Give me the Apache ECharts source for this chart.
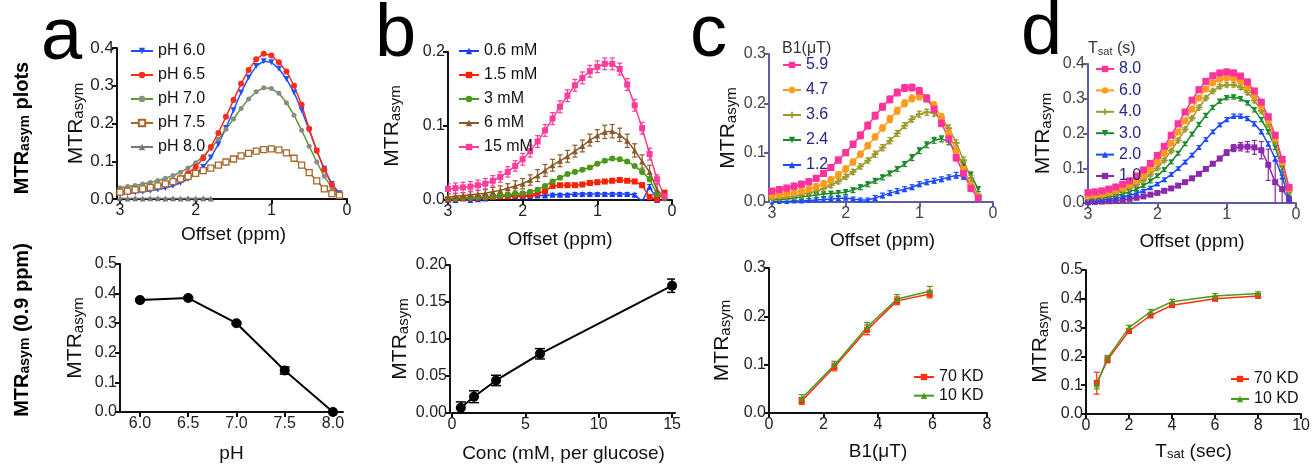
<!DOCTYPE html>
<html><head><meta charset="utf-8">
<script src="https://cdn.jsdelivr.net/npm/echarts@6/dist/echarts.min.js"></script>
<style>html,body{margin:0;padding:0;background:#fff}#c{width:1313px;height:466px}</style>
</head><body><div id="c"></div><script>
// ---------- DATA ----------
const OFF30 = [3.0,2.9,2.8,2.7,2.6,2.5,2.4,2.3,2.2,2.1,2.0,1.9,1.8,1.7,1.6,1.5,1.4,1.3,1.2,1.1,1.0,0.9,0.8,0.7,0.6,0.5,0.4,0.3,0.2,0.1];
const OFF29 = [3.0,2.9,2.8,2.7,2.6,2.5,2.4,2.3,2.2,2.1,2.0,1.9,1.8,1.7,1.6,1.5,1.4,1.3,1.2,1.1,1.0,0.9,0.8,0.7,0.6,0.5,0.4,0.3,0.2];
const OFF13 = [3.0,2.9,2.8,2.7,2.6,2.5,2.4,2.3,2.2,2.1,2.0,1.9,1.8];

// panel a (top)
const aNames = ['pH 6.0','pH 6.5','pH 7.0','pH 7.5','pH 8.0'];
const ph60 = [0.013,0.015,0.017,0.019,0.022,0.025,0.029,0.035,0.043,0.053,0.066,0.085,0.110,0.145,0.188,0.235,0.282,0.322,0.352,0.365,0.362,0.345,0.318,0.282,0.236,0.182,0.128,0.080,0.040,0.015];
const ph65 = [0.020,0.022,0.024,0.027,0.030,0.034,0.039,0.046,0.055,0.068,0.085,0.108,0.138,0.175,0.218,0.262,0.305,0.342,0.370,0.385,0.380,0.362,0.338,0.300,0.250,0.186,0.128,0.078,0.038,0.012];
const ph70 = [0.030,0.033,0.036,0.040,0.044,0.049,0.055,0.062,0.071,0.082,0.096,0.113,0.134,0.158,0.185,0.212,0.240,0.265,0.284,0.295,0.293,0.280,0.255,0.222,0.182,0.140,0.098,0.060,0.030,0.010];
const ph75 = [0.018,0.021,0.024,0.027,0.031,0.035,0.040,0.046,0.053,0.060,0.068,0.075,0.082,0.090,0.098,0.106,0.114,0.121,0.127,0.131,0.133,0.130,0.122,0.108,0.090,0.070,0.048,0.027,0.014,0.010];
const ph80 = [0.002,0.001,0.002,0.001,0.002,0.002,0.001,0.002,0.001,0.002,0.001,0.002,0.001];

// panel b (top)
const bNames = ['0.6 mM','1.5 mM','3 mM','6 mM','15 mM'];
const c06 = [0.000,0.000,-0.001,0.000,0.001,0.002,0.004,0.005,0.005,0.005,0.005,0.005,0.006,0.006,0.007,0.007,0.007,0.008,0.008,0.008,0.008,0.008,0.008,0.008,0.008,0.007,-0.002,0.018,0.000,-0.002];
const c06e = [0.002,0.002,0.002,0.002,0.002,0.002,0.002,0.002,0.002,0.002,0.002,0.002,0.002,0.002,0.002,0.002,0.002,0.002,0.002,0.002,0.002,0.002,0.002,0.002,0.002,0.002,0.002,0.003,0.002,0.002];
const c15 = [0.001,0.002,0.002,0.003,0.003,0.004,0.004,0.005,0.005,0.006,0.006,0.007,0.009,0.012,0.019,0.020,0.020,0.020,0.021,0.023,0.024,0.025,0.026,0.027,0.026,0.025,0.020,0.004,0.001,0.010];
const c15e = [0.002,0.002,0.002,0.002,0.002,0.002,0.002,0.002,0.002,0.002,0.002,0.002,0.002,0.002,0.002,0.002,0.002,0.002,0.002,0.002,0.002,0.002,0.002,0.002,0.002,0.002,0.003,0.003,0.002,0.002];
const c3 = [0.002,0.002,0.003,0.003,0.004,0.004,0.005,0.006,0.007,0.008,0.009,0.011,0.014,0.019,0.025,0.030,0.035,0.038,0.041,0.044,0.049,0.053,0.056,0.055,0.052,0.046,0.038,0.028,0.008,0.002];
const c3e = [0.002,0.002,0.002,0.002,0.002,0.002,0.002,0.002,0.002,0.002,0.002,0.002,0.002,0.002,0.002,0.002,0.002,0.002,0.002,0.002,0.002,0.002,0.002,0.002,0.002,0.002,0.002,0.003,0.002,0.002];
const c6 = [0.004,0.005,0.006,0.007,0.008,0.009,0.011,0.013,0.016,0.019,0.022,0.027,0.033,0.040,0.047,0.053,0.059,0.066,0.073,0.081,0.087,0.092,0.093,0.088,0.080,0.067,0.052,0.038,0.014,0.003];
const c6e = [0.004,0.004,0.004,0.005,0.005,0.005,0.006,0.006,0.006,0.007,0.007,0.007,0.008,0.008,0.008,0.008,0.008,0.008,0.008,0.008,0.008,0.009,0.009,0.009,0.009,0.009,0.009,0.009,0.008,0.004];
const c150 = [0.015,0.016,0.017,0.018,0.020,0.022,0.026,0.031,0.038,0.046,0.055,0.066,0.079,0.094,0.110,0.126,0.141,0.155,0.165,0.174,0.180,0.184,0.184,0.177,0.156,0.128,0.097,0.062,0.028,0.005];
const c150e = [0.007,0.007,0.007,0.007,0.007,0.007,0.007,0.007,0.007,0.007,0.008,0.008,0.008,0.008,0.008,0.008,0.008,0.008,0.008,0.008,0.008,0.008,0.008,0.008,0.008,0.008,0.008,0.008,0.006,0.004];

// panel c (top)
const cNames = ['5.9','4.7','3.6','2.4','1.2'];
const b59 = [0.022,0.025,0.028,0.032,0.036,0.041,0.048,0.058,0.070,0.085,0.100,0.117,0.135,0.155,0.175,0.193,0.208,0.222,0.231,0.232,0.225,0.210,0.188,0.160,0.128,0.090,0.058,0.028,0.008];
const b59e = [0.006,0.006,0.006,0.006,0.006,0.006,0.006,0.006,0.006,0.006,0.006,0.006,0.007,0.007,0.007,0.007,0.007,0.007,0.007,0.007,0.007,0.007,0.007,0.007,0.007,0.007,0.007,0.007,0.006];
const b47 = [0.012,0.014,0.016,0.019,0.022,0.026,0.031,0.037,0.045,0.055,0.067,0.081,0.097,0.114,0.132,0.150,0.168,0.185,0.200,0.210,0.214,0.210,0.196,0.172,0.140,0.103,0.066,0.034,0.010];
const b47e = [0.006,0.006,0.006,0.006,0.006,0.006,0.006,0.006,0.006,0.006,0.006,0.006,0.006,0.006,0.006,0.006,0.007,0.007,0.007,0.007,0.007,0.007,0.007,0.007,0.007,0.007,0.007,0.007,0.006];
const b36 = [0.006,0.008,0.010,0.012,0.015,0.018,0.022,0.027,0.034,0.042,0.051,0.061,0.072,0.084,0.097,0.110,0.124,0.139,0.155,0.168,0.178,0.182,0.180,0.170,0.150,0.120,0.085,0.048,0.012];
const b36e = [0.005,0.005,0.005,0.005,0.005,0.005,0.005,0.005,0.005,0.005,0.005,0.005,0.005,0.005,0.006,0.006,0.006,0.006,0.006,0.006,0.006,0.006,0.006,0.006,0.006,0.006,0.006,0.006,0.005];
const b24 = [0.004,0.005,0.006,0.008,0.010,0.012,0.014,0.016,0.017,0.018,0.020,0.024,0.030,0.036,0.043,0.050,0.058,0.067,0.077,0.090,0.104,0.116,0.125,0.128,0.122,0.100,0.075,0.055,0.026];
const b24e = [0.005,0.005,0.005,0.005,0.005,0.005,0.005,0.005,0.005,0.005,0.005,0.005,0.005,0.005,0.005,0.005,0.005,0.005,0.005,0.006,0.006,0.006,0.006,0.006,0.006,0.006,0.006,0.006,0.005];
const b12 = [0.000,0.001,0.001,0.002,0.002,0.003,0.004,0.005,0.006,0.007,0.008,0.006,0.004,0.004,0.008,0.013,0.018,0.022,0.026,0.030,0.036,0.040,0.043,0.046,0.050,0.054,0.052,0.035,0.005];
const b12e = [0.004,0.004,0.004,0.004,0.004,0.004,0.004,0.004,0.004,0.004,0.004,0.004,0.004,0.004,0.005,0.005,0.005,0.005,0.005,0.005,0.005,0.005,0.005,0.005,0.005,0.006,0.006,0.006,0.005];

// panel d (top)
const dNames = ['8.0','6.0','4.0','3.0','2.0','1.0'];
const t80 = [0.030,0.032,0.035,0.040,0.046,0.054,0.064,0.078,0.095,0.114,0.137,0.163,0.195,0.228,0.262,0.296,0.326,0.350,0.366,0.374,0.377,0.374,0.365,0.348,0.322,0.290,0.248,0.195,0.125,0.045];
const t80e = [0.006,0.006,0.006,0.006,0.006,0.006,0.006,0.006,0.006,0.006,0.006,0.006,0.006,0.006,0.006,0.006,0.007,0.007,0.007,0.008,0.008,0.008,0.008,0.008,0.008,0.008,0.008,0.008,0.008,0.006];
const t60 = [0.020,0.022,0.025,0.030,0.036,0.043,0.052,0.064,0.079,0.097,0.118,0.143,0.172,0.204,0.237,0.270,0.302,0.328,0.346,0.356,0.360,0.358,0.350,0.334,0.310,0.278,0.237,0.185,0.118,0.040];
const t60e = [0.005,0.005,0.005,0.005,0.005,0.005,0.005,0.005,0.005,0.005,0.005,0.005,0.005,0.005,0.006,0.006,0.006,0.006,0.006,0.006,0.006,0.006,0.006,0.006,0.006,0.006,0.006,0.006,0.006,0.005];
const t40 = [0.015,0.017,0.020,0.024,0.029,0.035,0.043,0.053,0.066,0.082,0.100,0.123,0.150,0.180,0.212,0.244,0.275,0.302,0.322,0.335,0.340,0.340,0.333,0.318,0.295,0.265,0.225,0.175,0.110,0.035];
const t40e = [0.005,0.005,0.005,0.005,0.005,0.005,0.005,0.005,0.005,0.005,0.005,0.005,0.005,0.005,0.005,0.005,0.006,0.006,0.006,0.006,0.006,0.006,0.006,0.006,0.006,0.006,0.006,0.006,0.005,0.005];
const t30 = [0.010,0.012,0.014,0.017,0.021,0.026,0.032,0.040,0.050,0.063,0.078,0.096,0.118,0.143,0.170,0.198,0.226,0.252,0.275,0.293,0.303,0.305,0.300,0.288,0.268,0.240,0.205,0.160,0.100,0.025];
const t30e = [0.004,0.004,0.004,0.004,0.004,0.004,0.004,0.004,0.005,0.005,0.005,0.005,0.005,0.005,0.005,0.005,0.006,0.006,0.006,0.006,0.006,0.006,0.006,0.006,0.006,0.006,0.006,0.006,0.005,0.004];
const t20 = [0.005,0.007,0.009,0.011,0.014,0.018,0.022,0.028,0.035,0.044,0.055,0.067,0.082,0.099,0.118,0.138,0.160,0.183,0.205,0.225,0.240,0.250,0.250,0.243,0.228,0.205,0.170,0.128,0.075,0.012];
const t20e = [0.004,0.004,0.004,0.004,0.004,0.004,0.004,0.004,0.004,0.004,0.004,0.005,0.005,0.005,0.005,0.005,0.005,0.005,0.005,0.005,0.006,0.006,0.006,0.006,0.006,0.006,0.006,0.006,0.005,0.004];
const t10 = [0.002,0.003,0.004,0.005,0.007,0.009,0.012,0.015,0.019,0.024,0.029,0.035,0.042,0.050,0.060,0.071,0.084,0.098,0.113,0.128,0.145,0.158,0.162,0.162,0.160,0.152,0.110,0.060,0.040,0.010];
const t10e = [0.004,0.004,0.004,0.004,0.004,0.004,0.004,0.004,0.004,0.004,0.004,0.004,0.004,0.004,0.004,0.005,0.005,0.005,0.005,0.006,0.008,0.010,0.012,0.015,0.020,0.025,0.045,0.060,0.050,0.010];

// bottom panels
const phX = [6.0,6.5,7.0,7.5,8.0];
const phY = [0.378,0.385,0.300,0.140,0.000];
const phE = [0.004,0.004,0.004,0.012,0.003];
const concX = [0.6,1.5,3,6,15];
const concY = [0.007,0.022,0.044,0.080,0.172];
const concE = [0.008,0.008,0.007,0.007,0.009];
const kdNames = ['70 KD','10 KD'];
const b1X = [1.2,2.4,3.6,4.7,5.9];
const b1Y70 = [0.025,0.095,0.172,0.232,0.246];
const b1E70 = [0.007,0.008,0.010,0.008,0.008];
const b1Y10 = [0.030,0.099,0.178,0.236,0.252];
const b1E10 = [0.008,0.008,0.009,0.009,0.010];
const tsX = [0.5,1,2,3,4,6,8];
const tsY70 = [0.107,0.188,0.288,0.342,0.378,0.400,0.410];
const tsE70 = [0.038,0.010,0.008,0.007,0.006,0.006,0.006];
const tsY10 = [0.102,0.195,0.300,0.355,0.390,0.410,0.418];
const tsE10 = [0.015,0.008,0.008,0.008,0.008,0.008,0.006];

const phTicks = [6.0,6.5,7.0,7.5,8.0];
const concTicks = [0,5,10,15];

// ---------- STYLE / BUILD ----------
const FONT = "'Liberation Sans', Arial, Helvetica, sans-serif";
const BLK = '#111';
const PURP = '#5b5ea6';

const zip = (xs, ys) => ys.map((y, i) => [xs[i], y]);
const zip3 = (xs, ys, es) => ys.map((y, i) => [xs[i], y, es[i]]);

function subRich(F, S, shift, extra) {
  const d = 0.85 * (F - S) + shift;
  return {
    m: Object.assign({fontSize: F, fontFamily: FONT, verticalAlign: 'top', lineHeight: F}, extra || {}),
    s: Object.assign({fontSize: S, fontFamily: FONT, verticalAlign: 'bottom', lineHeight: S, padding: [d, 0, 0, 0]}, extra || {})
  };
}

function xAx(grid, o) {
  const c = o.color || BLK;
  const ax = {
    gridIndex: grid, type: 'value', min: o.min, max: o.max, inverse: !!o.inverse,
    name: o.name, nameLocation: 'middle', nameGap: o.gap,
    nameTextStyle: o.rich ? {rich: o.rich, color: BLK} : {fontSize: 19, color: BLK, fontFamily: FONT},
    axisLine: {show: true, onZero: false, lineStyle: {color: c, width: 2}},
    axisTick: {show: true, length: 5, lineStyle: {color: c, width: 2}},
    axisLabel: {show: true, fontSize: 16, color: o.labColor || '#222', fontFamily: FONT, margin: 4},
    splitLine: {show: false}
  };
  if (o.interval) ax.interval = o.interval;
  if (o.ticks) {
    ax.axisTick.customValues = o.ticks;
    ax.axisLabel.customValues = o.ticks;
  }
  if (o.fmt) ax.axisLabel.formatter = o.fmt;
  return ax;
}

function yAx(grid, o) {
  const c = o.color || BLK;
  return {
    gridIndex: grid, type: 'value', min: 0, max: o.max, interval: o.interval, offset: o.offset || 0,
    name: '{m|MTR}{s|asym}', nameLocation: 'middle', nameGap: o.gap, nameRotate: 90,
    nameTextStyle: {color: BLK, rich: subRich(21, 15, 6)},
    axisLine: {show: true, onZero: false, lineStyle: {color: c, width: 2}},
    axisTick: {show: true, length: 5, lineStyle: {color: c, width: 2}},
    axisLabel: {show: true, fontSize: o.fs || 16, color: o.labColor || '#222', fontFamily: FONT, margin: 3,
      formatter: v => v.toFixed(o.dec)},
    splitLine: {show: false}
  };
}

const series = [];
function addLine(name, grid, xs, ys, color, symbol, size, extra) {
  const s = {
    name, type: 'line', xAxisIndex: grid, yAxisIndex: grid,
    data: zip(xs, ys), symbol, symbolSize: size, showAllSymbol: true,
    lineStyle: {color, width: 1.5}, itemStyle: {color},
    emphasis: {disabled: true}, animation: false, z: 3
  };
  if (extra) {
    if (extra.rotate) s.symbolRotate = extra.rotate;
    if (extra.itemStyle) s.itemStyle = extra.itemStyle;
  }
  series.push(s);
}
function addErr(grid, xs, ys, es, color, cap, lw) {
  series.push({
    type: 'custom', name: 'err' + series.length, xAxisIndex: grid, yAxisIndex: grid,
    data: zip3(xs, ys, es), clip: true, animation: false, silent: true, z: 2,
    renderItem: function (params, api) {
      const x = api.value(0), y = api.value(1), e = api.value(2);
      const p1 = api.coord([x, y + e]), p2 = api.coord([x, y - e]);
      const st = {stroke: color, lineWidth: lw || 1.2};
      return {type: 'group', children: [
        {type: 'line', shape: {x1: p1[0], y1: p1[1], x2: p2[0], y2: p2[1]}, style: st},
        {type: 'line', shape: {x1: p1[0] - cap, y1: p1[1], x2: p1[0] + cap, y2: p1[1]}, style: st},
        {type: 'line', shape: {x1: p2[0] - cap, y1: p2[1], x2: p2[0] + cap, y2: p2[1]}, style: st}
      ]};
    }
  });
}

const PLUS = 'path://M3,0H5V3H8V5H5V8H3V5H0V3H3Z';

// panel a top
addLine(aNames[0], 0, OFF30, ph60, '#2050ff', 'triangle', 6, {rotate: 180});
addLine(aNames[2], 0, OFF30, ph70, '#5c9a2c', 'circle', 5, {itemStyle: {color: '#8a8a8a'}});
addLine(aNames[1], 0, OFF30, ph65, '#ff2a1a', 'circle', 6);
addLine(aNames[3], 0, OFF30, ph75, '#a8662a', 'rect', 6, {itemStyle: {color: '#ffffff', borderColor: '#a8662a', borderWidth: 1.3}});
addLine(aNames[4], 0, OFF13, ph80, '#777777', 'triangle', 6);

// panel b top
const bCols = ['#1a3cff', '#ff2000', '#4a9a1a', '#8b5a2b', '#ff3c9a'];
const bSym = ['triangle', 'rect', 'circle', 'triangle', 'rect'];
[[c06, c06e], [c15, c15e], [c3, c3e], [c6, c6e], [c150, c150e]].forEach((p, i) => {
  addErr(1, OFF30, p[0], p[1], bCols[i], 2.5);
  addLine(bNames[i], 1, OFF30, p[0], bCols[i], bSym[i], 6);
});

// panel c top
const cCols = ['#ff3399', '#ff9a1a', '#9a9a2a', '#1a8a2a', '#1a4aff'];
const cSym = ['rect', 'circle', PLUS, 'triangle', 'triangle'];
const cSize = [7, 7, 7, 5, 5];
const cRot = [0, 0, 0, 180, 0];
[[b12, b12e, 4], [b24, b24e, 3], [b36, b36e, 2], [b47, b47e, 1], [b59, b59e, 0]].forEach(p => {
  const i = p[2];
  addErr(2, OFF29, p[0], p[1], cCols[i], 2.5);
  addLine(cNames[i], 2, OFF29, p[0], cCols[i], cSym[i], cSize[i], {rotate: cRot[i]});
});

// panel d top
const dCols = ['#ff3399', '#ff9a1a', '#9a9a2a', '#1a8a2a', '#1a4aff', '#8a2aa8'];
const dSym = ['rect', 'circle', PLUS, 'triangle', 'triangle', 'rect'];
const dSize = [7, 7, 7, 5, 5, 6];
const dRot = [0, 0, 0, 180, 0, 0];
[[t10, t10e, 5], [t20, t20e, 4], [t30, t30e, 3], [t40, t40e, 2], [t60, t60e, 1], [t80, t80e, 0]].forEach(p => {
  const i = p[2];
  addErr(3, OFF30, p[0], p[1], dCols[i], 2.5);
  addLine(dNames[i], 3, OFF30, p[0], dCols[i], dSym[i], dSize[i], {rotate: dRot[i]});
});

// bottom panels
addErr(4, phX, phY, phE, '#000', 5, 1.5);
addLine('pH', 4, phX, phY, '#000', 'circle', 10);
series[series.length - 1].lineStyle.width = 2;
addErr(5, concX, concY, concE, '#000', 5, 1.5);
addLine('conc', 5, concX, concY, '#000', 'circle', 10);
series[series.length - 1].lineStyle.width = 2;
addErr(6, b1X, b1Y70, b1E70, '#ff3010', 3);
addErr(6, b1X, b1Y10, b1E10, '#4a9a1a', 3);
addLine(kdNames[0], 6, b1X, b1Y70, '#ff3010', 'rect', 6);
addLine(kdNames[1], 6, b1X, b1Y10, '#4a9a1a', 'triangle', 6);
addErr(7, tsX, tsY70, tsE70, '#ff3010', 3);
addErr(7, tsX, tsY10, tsE10, '#4a9a1a', 3);
addLine(kdNames[0], 7, tsX, tsY70, '#ff3010', 'rect', 6);
addLine(kdNames[1], 7, tsX, tsY10, '#4a9a1a', 'triangle', 6);

function leg(names, left, top, gap, iw, color) {
  return {data: names, orient: 'vertical', left, top, itemGap: gap, itemWidth: iw, itemHeight: 8,
    padding: 0, selectedMode: false,
    textStyle: {fontSize: 16, color, fontFamily: FONT}};
}

const NAVY = '#25258a';
const LET = '74px ' + FONT;
const option = {
  animation: false,
  textStyle: {fontFamily: FONT},
  grid: [
    {left: 120, top: 48, width: 227, height: 151},
    {left: 448, top: 52, width: 224, height: 148},
    {left: 772, top: 54, width: 221, height: 148},
    {left: 1088, top: 64, width: 208, height: 139},
    {left: 120, top: 264, width: 223, height: 148},
    {left: 452, top: 265, width: 223, height: 148},
    {left: 769, top: 268, width: 218, height: 145},
    {left: 1086, top: 270, width: 218, height: 144}
  ],
  xAxis: [
    xAx(0, {min: 0, max: 3, interval: 1, inverse: true, name: 'Offset (ppm)', gap: 26}),
    xAx(1, {min: 0, max: 3, interval: 1, inverse: true, name: 'Offset (ppm)', gap: 30}),
    xAx(2, {min: 0, max: 3, interval: 1, inverse: true, name: 'Offset (ppm)', gap: 29, color: PURP, labColor: '#444'}),
    xAx(3, {min: 0, max: 3, interval: 1, inverse: true, name: 'Offset (ppm)', gap: 29, color: PURP, labColor: '#444'}),
    xAx(4, {min: 5.793, max: 8.104, ticks: phTicks, name: 'pH', gap: 32, fmt: v => v.toFixed(1)}),
    xAx(5, {min: 0, max: 15.2, ticks: concTicks, name: 'Conc (mM, per glucose)', gap: 31}),
    xAx(6, {min: 0, max: 8, interval: 2, name: 'B1(\u03bcT)', gap: 29}),
    xAx(7, {min: 0, max: 10, interval: 2, name: '{m|T}{s|sat}{m| (sec)}', gap: 28, rich: subRich(19, 13, 5)})
  ],
  yAxis: [
    yAx(0, {max: 0.4, interval: 0.1, dec: 1, gap: 28, offset: 3, fs: 17}),
    yAx(1, {max: 0.2, interval: 0.1, dec: 1, gap: 45}),
    yAx(2, {max: 0.3, interval: 0.1, dec: 1, gap: 30, offset: 3, color: PURP, labColor: '#444'}),
    yAx(3, {max: 0.4, interval: 0.1, dec: 1, gap: 34, color: PURP, labColor: '#444'}),
    yAx(4, {max: 0.5, interval: 0.1, dec: 1, gap: 34}),
    yAx(5, {max: 0.2, interval: 0.05, dec: 2, gap: 39, offset: 2}),
    yAx(6, {max: 0.3, interval: 0.1, dec: 1, gap: 36}),
    yAx(7, {max: 0.5, interval: 0.1, dec: 1, gap: 35})
  ],
  legend: [
    leg(aNames, 130, 43, 8, 22, BLK),
    leg(bNames, 458, 43, 8, 20, BLK),
    leg(cNames, 782, 57, 9, 18, NAVY),
    leg(dNames, 1095, 61, 5.4, 18, NAVY),
    leg(kdNames, 913, 369, 2.7, 20, BLK),
    leg(kdNames, 1230, 371, 4, 18, BLK)
  ],
  graphic: [
    {type: 'text', x: 41, y: 39, silent: true, style: {text: 'a', font: LET, fill: '#000', align: 'left', verticalAlign: 'middle'}},
    {type: 'text', x: 375, y: 36, silent: true, style: {text: 'b', font: LET, fill: '#000', align: 'left', verticalAlign: 'middle'}},
    {type: 'text', x: 690, y: 36, silent: true, style: {text: 'c', font: LET, fill: '#000', align: 'left', verticalAlign: 'middle'}},
    {type: 'text', x: 1021, y: 34, silent: true, style: {text: 'd', font: LET, fill: '#000', align: 'left', verticalAlign: 'middle'}},
    {type: 'text', x: 22, y: 128, rotation: Math.PI / 2, silent: true,
      style: {text: '{m|MTR}{s|asym}{m| plots}', rich: subRich(20, 14, 5, {fontWeight: 'bold'}), fill: '#000', align: 'center', verticalAlign: 'middle'}},
    {type: 'text', x: 22, y: 330, rotation: Math.PI / 2, silent: true,
      style: {text: '{m|MTR}{s|asym}{m| (0.9 ppm)}', rich: subRich(20, 14, 5, {fontWeight: 'bold'}), fill: '#000', align: 'center', verticalAlign: 'middle'}},
    {type: 'text', x: 782, y: 49, silent: true, style: {text: 'B1(\u03bcT)', font: '16px ' + FONT, fill: '#333', align: 'left', verticalAlign: 'middle'}},
    {type: 'text', x: 1088, y: 49, silent: true,
      style: {text: '{m|T}{s|sat}{m| (s)}', rich: subRich(16, 11, 4), fill: '#333', align: 'left', verticalAlign: 'middle'}}
  ],
  series
};

const chart = echarts.init(document.getElementById('c'), null, {renderer: 'canvas'});
chart.setOption(option);
</script></body></html>
